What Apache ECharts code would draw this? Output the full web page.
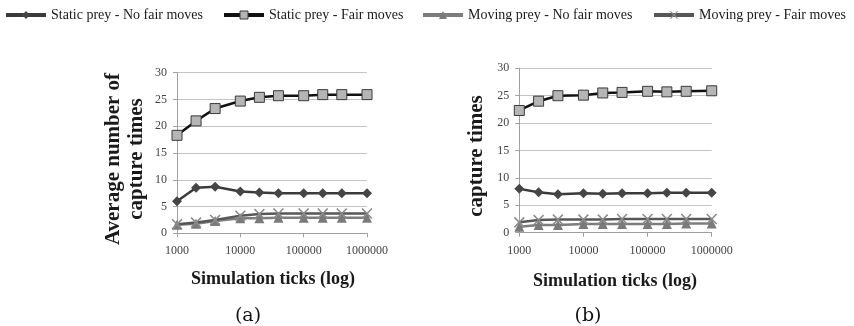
<!DOCTYPE html>
<html>
<head>
<meta charset="utf-8">
<script src="https://cdn.jsdelivr.net/npm/echarts@6/dist/echarts.min.js"></script>
<style>
  html, body { margin: 0; padding: 0; background: #fff; }
  #chart { width: 854px; height: 326px; }
</style>
</head>
<body>
<div id="chart"></div>
<script>
// Simulation lengths (ticks) at which captures were averaged
const ticks = [1000, 2000, 4000, 10000, 20000, 40000, 100000, 200000, 400000, 1000000];
const xTickLabels = ['1000', '10000', '100000', '1000000'];
const yTickLabels = ['0', '5', '10', '15', '20', '25', '30'];

const seriesNames = [
  'Static prey - No fair moves',
  'Static prey - Fair moves',
  'Moving prey - No fair moves',
  'Moving prey - Fair moves'
];

// Panel (a)
const aStaticNoFair = [6.0, 8.5, 8.7, 7.8, 7.6, 7.5, 7.5, 7.5, 7.5, 7.5];
const aStaticFair   = [18.3, 21.0, 23.3, 24.7, 25.4, 25.7, 25.7, 25.9, 25.9, 25.9];
const aMovingNoFair = [1.6, 1.8, 2.3, 2.8, 2.8, 2.9, 2.9, 2.9, 2.9, 2.9];
const aMovingFair   = [1.7, 2.0, 2.5, 3.3, 3.6, 3.7, 3.7, 3.7, 3.7, 3.7];

// Panel (b)
const bStaticNoFair = [8.0, 7.4, 7.0, 7.2, 7.1, 7.2, 7.2, 7.3, 7.3, 7.3];
const bStaticFair   = [22.3, 24.0, 25.0, 25.1, 25.5, 25.6, 25.8, 25.7, 25.8, 25.9];
const bMovingNoFair = [1.1, 1.4, 1.4, 1.6, 1.6, 1.6, 1.6, 1.6, 1.7, 1.7];
const bMovingFair   = [1.9, 2.3, 2.4, 2.4, 2.4, 2.5, 2.5, 2.5, 2.5, 2.5];

const SERIF = '"Liberation Serif", "Times New Roman", serif';
const crossPath = 'path://M1,0L5,4L9,0L10,1L6,5L10,9L9,10L5,6L1,10L0,9L4,5L0,1Z';

const styles = [
  { line: '#3a3a3a', symbol: 'diamond', size: 10, fill: '#454545', border: '#454545', bw: 0 },
  { line: '#111111', symbol: 'rect', size: 10, fill: '#b5b5b5', border: '#3a3a3a', bw: 1 },
  { line: '#7d7d7d', symbol: 'triangle', size: 10, fill: '#7a7a7a', border: '#7a7a7a', bw: 0 },
  { line: '#575757', symbol: crossPath, size: 11, fill: '#8a8a8a', border: '#8a8a8a', bw: 0 }
];

function pairs(vals) {
  return ticks.map((t, i) => [t, vals[i]]);
}

function makeSeries(idx, vals, axisIndex) {
  const s = styles[idx];
  return {
    name: seriesNames[idx],
    type: 'line',
    xAxisIndex: axisIndex,
    yAxisIndex: axisIndex,
    data: pairs(vals),
    clip: false,
    symbol: s.symbol,
    symbolSize: s.size,
    lineStyle: { color: s.line, width: 2.5 },
    itemStyle: { color: s.fill, borderColor: s.border, borderWidth: s.bw },
    emphasis: { disabled: true },
    animation: false,
    z: idx === 1 ? 4 : 3
  };
}

function xAxisCfg(gridIndex) {
  return {
    type: 'log',
    logBase: 10,
    gridIndex: gridIndex,
    min: ticks[0],
    max: ticks[ticks.length - 1],
    axisLine: { show: true, lineStyle: { color: '#a0a0a0', width: 1 } },
    axisTick: { show: true, length: 4, lineStyle: { color: '#a0a0a0' } },
    splitLine: { show: false },
    axisLabel: {
      margin: 12,
      color: '#444',
      fontFamily: SERIF,
      fontSize: 12,
      formatter: function (v) {
        const k = Math.round(Math.log10(v)) - 3;
        return xTickLabels[k] !== undefined ? xTickLabels[k] : '';
      }
    }
  };
}

function yAxisCfg(gridIndex) {
  return {
    type: 'value',
    gridIndex: gridIndex,
    min: 0,
    max: 30,
    interval: 5,
    axisLine: { show: true, lineStyle: { color: '#a0a0a0', width: 1 } },
    axisTick: { show: true, length: 4, lineStyle: { color: '#a0a0a0' } },
    splitLine: { show: true, lineStyle: { color: '#c4c4c4', width: 1 } },
    axisLabel: {
      margin: 10,
      color: '#444',
      fontFamily: SERIF,
      fontSize: 12,
      formatter: function (v) {
        const k = Math.round(v / 5);
        return yTickLabels[k] !== undefined ? yTickLabels[k] : '';
      }
    }
  };
}

function legendCfg(idx, left) {
  const s = styles[idx];
  return {
    data: [{
      name: seriesNames[idx],
      lineStyle: { color: s.line, width: 4 },
      itemStyle: { color: s.fill, borderColor: s.border, borderWidth: s.bw }
    }],
    left: left,
    top: 8,
    padding: 0,
    itemWidth: 40,
    itemHeight: 10,
    selectedMode: false,
    textStyle: { fontFamily: SERIF, fontSize: 14, color: '#1a1a1a' }
  };
}

const titleFont = { fontFamily: SERIF, fontWeight: 'bold', fontSize: 21, fill: '#1a1a1a' };

const chart = echarts.init(document.getElementById('chart'), null, { renderer: 'canvas' });
chart.setOption({
  backgroundColor: '#ffffff',
  animation: false,
  legend: [
    legendCfg(0, 4),
    legendCfg(1, 222),
    legendCfg(2, 421),
    legendCfg(3, 652)
  ],
  grid: [
    { left: 177, top: 72.7, width: 190, height: 160.6 },
    { left: 519.3, top: 68.3, width: 192.4, height: 164.4 }
  ],
  xAxis: [xAxisCfg(0), xAxisCfg(1)],
  yAxis: [yAxisCfg(0), yAxisCfg(1)],
  series: [
    makeSeries(0, aStaticNoFair, 0),
    makeSeries(1, aStaticFair, 0),
    makeSeries(2, aMovingNoFair, 0),
    makeSeries(3, aMovingFair, 0),
    makeSeries(0, bStaticNoFair, 1),
    makeSeries(1, bStaticFair, 1),
    makeSeries(2, bMovingNoFair, 1),
    makeSeries(3, bMovingFair, 1)
  ],
  graphic: [
    {
      type: 'text', x: 125.5, y: 159, rotation: Math.PI / 2,
      style: Object.assign({ text: 'Average number of\ncapture times', align: 'center', verticalAlign: 'middle', lineHeight: 23 }, titleFont)
    },
    {
      type: 'text', x: 477, y: 156, rotation: Math.PI / 2,
      style: Object.assign({ text: 'capture times', align: 'center', verticalAlign: 'middle' }, titleFont)
    },
    {
      type: 'text', x: 273, y: 279,
      style: Object.assign({}, titleFont, { text: 'Simulation ticks (log)', align: 'center', verticalAlign: 'middle', fontSize: 18 })
    },
    {
      type: 'text', x: 615, y: 281,
      style: Object.assign({}, titleFont, { text: 'Simulation ticks (log)', align: 'center', verticalAlign: 'middle', fontSize: 18 })
    },
    {
      type: 'text', x: 248, y: 316,
      style: { text: '(a)', align: 'center', verticalAlign: 'middle', fontFamily: '"DejaVu Serif", serif', fontSize: 19, fill: '#111' }
    },
    {
      type: 'text', x: 588, y: 316,
      style: { text: '(b)', align: 'center', verticalAlign: 'middle', fontFamily: '"DejaVu Serif", serif', fontSize: 19, fill: '#111' }
    }
  ]
});
</script>
</body>
</html>
